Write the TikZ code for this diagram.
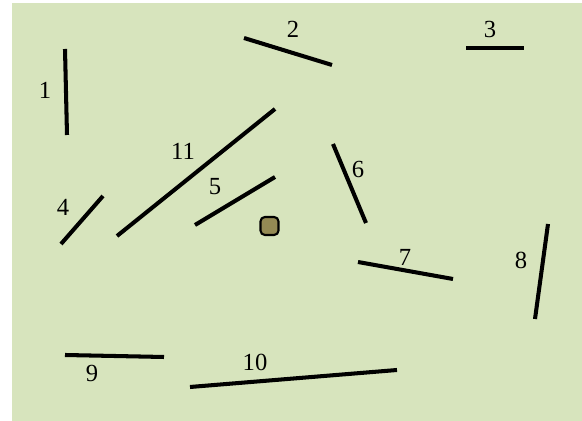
\documentclass[tikz,border=0pt]{standalone}
\usepackage{fontspec}
\setmainfont{Liberation Serif}
\usepackage{tikz}
\usepackage{xcolor}

\definecolor{bgGreen}{HTML}{D7E4BD}
\definecolor{boxOlive}{HTML}{948A54}

\begin{document}
\begin{tikzpicture}[x=0.02cm,y=-0.02cm,
  wall/.style={line width=2.3pt},
  num/.style={font=\fontsize{14}{16}\selectfont,inner sep=0pt}]

\useasboundingbox (0,0) rectangle (582,421);
\fill[bgGreen] (12,3) rectangle (582,421);

% segments
\coordinate (w1a) at (65,49);   \coordinate (w1b) at (67,135);
\coordinate (w2a) at (244,38);  \coordinate (w2b) at (332,65);
\coordinate (w3a) at (466,48);  \coordinate (w3b) at (524,48);
\coordinate (w4a) at (61,244);  \coordinate (w4b) at (103,196);
\coordinate (w5a) at (195,225); \coordinate (w5b) at (275,177);
\coordinate (w6a) at (333,144); \coordinate (w6b) at (366,223);
\coordinate (w7a) at (358,262); \coordinate (w7b) at (453,279);
\coordinate (w8a) at (548,224); \coordinate (w8b) at (535,319);
\coordinate (w9a) at (65,355);  \coordinate (w9b) at (164,357);
\coordinate (w10a) at (190,387); \coordinate (w10b) at (397,370);
\coordinate (w11a) at (117,236); \coordinate (w11b) at (275,109);

\draw[wall] (w1a) -- (w1b);
\draw[wall] (w2a) -- (w2b);
\draw[wall] (w3a) -- (w3b);
\draw[wall] (w4a) -- (w4b);
\draw[wall] (w5a) -- (w5b);
\draw[wall] (w6a) -- (w6b);
\draw[wall] (w7a) -- (w7b);
\draw[wall] (w8a) -- (w8b);
\draw[wall] (w9a) -- (w9b);
\draw[wall] (w10a) -- (w10b);
\draw[wall] (w11a) -- (w11b);

% labels
\node[num] (l1) at (45,90) {1};
\node[num] (l2) at (293,29) {2};
\node[num] (l3) at (490,29) {3};
\node[num] (l4) at (63,207) {4};
\node[num] (l5) at (215,187) {5};
\node[num] (l6) at (358,169) {6};
\node[num] (l7) at (405,257) {7};
\node[num] (l8) at (521,260) {8};
\node[num] (l9) at (92,373) {9};
\node[num] (l10) at (255,362) {10};
\node[num] (l11) at (183,151) {11};

% robot
\node[draw,line width=1.2pt,fill=boxOlive,rounded corners=2.5pt,
  minimum size=0.36cm,inner sep=0pt] (bot) at (269.5,226) {};

\end{tikzpicture}
\end{document}
